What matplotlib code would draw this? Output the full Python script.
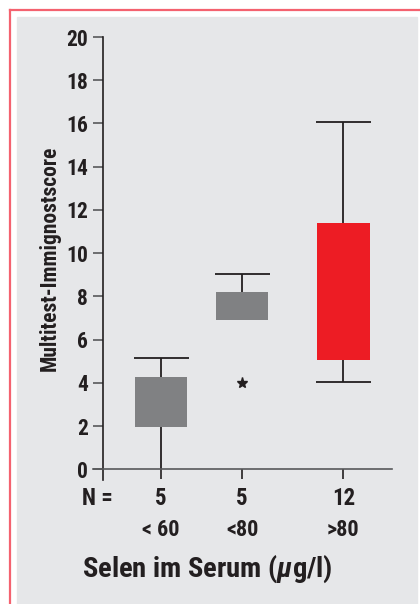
import matplotlib
matplotlib.use("Agg")
import matplotlib.pyplot as plt
import matplotlib.transforms as mtrans
from matplotlib.patches import Rectangle

# data
groups = ["< 60", "<80", ">80"]
n_values = [5, 5, 12]
q1 = [1.95, 6.9, 5.05]
q3 = [4.26, 8.19, 11.39]
whisker_lo = [0.0, 6.9, 4.05]
whisker_hi = [5.15, 9.05, 16.05]
outliers = [[], [4.0], []]
box_colors = ["#808183", "#808183", "#ED1C24"]
y_ticks = [0, 2, 4, 6, 8, 10, 12, 14, 16, 18, 20]

# layout
positions = [1, 2, 3.25]
box_w = 0.65
cap_w = 0.68
W, H = 420, 604
ink = "#231F20"

plt.rcParams["font.family"] = ["Roboto Condensed", "DejaVu Sans"]
plt.rcParams["font.weight"] = "bold"
plt.rcParams["mathtext.fontset"] = "custom"
plt.rcParams["mathtext.it"] = "Roboto Condensed:italic:bold"
plt.rcParams["mathtext.rm"] = "Roboto Condensed:bold"

fig = plt.figure(figsize=(W / 100, H / 100), dpi=100)
fig.patch.set_facecolor("white")

# grey panel and the red frame lines
fig.patches.append(Rectangle((17 / W, 0), 400 / W, (H - 17) / H,
                             transform=fig.transFigure, color="#E6E7E9", zorder=-5))
fig.add_artist(plt.Line2D([10 / W, 10 / W], [0, 1 - 10 / H], transform=fig.transFigure,
                          color="#F4626F", lw=1.6, zorder=-4))
fig.add_artist(plt.Line2D([10 / W, 1], [1 - 10 / H, 1 - 10 / H], transform=fig.transFigure,
                          color="#F4626F", lw=1.6, zorder=-4))

# axes: x pixels 93..392, y pixels 37..480
ax = fig.add_axes([93 / W, 1 - 480 / H, 299 / W, 443 / H])
ax.set_facecolor("none")
ax.set_xlim(0.16, 3.85)
ax.set_ylim(-0.495, 20)

for p, lo, a, b, hi, c in zip(positions, whisker_lo, q1, q3, whisker_hi, box_colors):
    ax.vlines(p, b, hi, color=ink, lw=1.3, zorder=2)
    ax.hlines(hi, p - cap_w / 2, p + cap_w / 2, color=ink, lw=1.3, zorder=2)
    if lo < a:
        ax.vlines(p, lo, a, color=ink, lw=1.3, zorder=2)
        if lo > 0:
            ax.hlines(lo, p - cap_w / 2, p + cap_w / 2, color=ink, lw=1.3, zorder=2)
    ax.bar(p, b - a, bottom=a, width=box_w, color=c, zorder=3)

for p, out in zip(positions, outliers):
    ax.plot([p] * len(out), out, ls="", marker="*", ms=8, color=ink, zorder=4)

ax.spines[["top", "right"]].set_visible(False)
ax.spines["left"].set_position(("axes", 10 / 299))
ax.spines["left"].set_bounds(-0.495, 20)
ax.spines["bottom"].set_position(("data", 0))
ax.spines["left"].set_color(ink)
ax.spines["bottom"].set_color("#58595B")
ax.spines["left"].set_linewidth(1.2)
ax.spines["bottom"].set_linewidth(1.2)

ax.set_yticks(y_ticks)
ax.set_yticklabels([str(t) for t in y_ticks], fontsize=15.5, color=ink)
ax.tick_params(axis="y", length=7, width=1.2, color="#58595B", pad=4)
ax.set_xticks(positions)
ax.set_xticklabels([])
ax.tick_params(axis="x", length=7.5, width=1.2, color=ink)

row = mtrans.blended_transform_factory(ax.transData, fig.transFigure)
fig.text(82 / W, 1 - 505 / H, "N =", ha="left", va="baseline", fontsize=16.5, color=ink)
for p, n, g in zip(positions, n_values, groups):
    ax.text(p, 1 - 505 / H, str(n), transform=row, ha="center", va="baseline",
            fontsize=16.5, color=ink)
    ax.text(p, 1 - 536 / H, g, transform=row, ha="center", va="baseline",
            fontsize=16, color=ink)

fig.text(82 / W, 1 - 577 / H, r"Selen im Serum ($\mathit{\mu}$g/l)", ha="left",
         va="baseline", fontsize=20.5, color=ink)
fig.text(55.5 / W, 1 - 258.5 / H, "Multitest-Immignostscore", rotation=90,
         rotation_mode="anchor", ha="center", va="baseline", fontsize=15.5, color=ink)

fig.savefig("out.png", dpi=100)
